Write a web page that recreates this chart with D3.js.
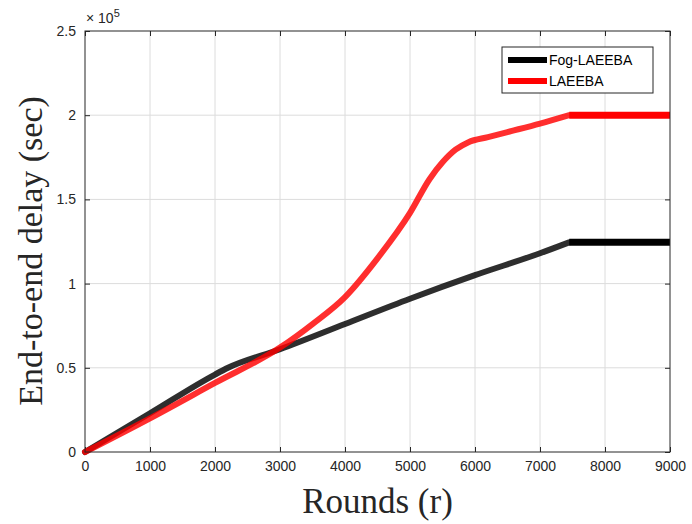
<!DOCTYPE html>
<html>
<head>
<meta charset="utf-8">
<script src="https://cdn.jsdelivr.net/npm/d3@7"></script>
<style>
  body { margin: 0; background: #fff; }
  svg { display: block; }
</style>
</head>
<body>
<div id="chart"></div>
<script>
/** Data (delay in units of 1e5 sec) */
const fogRounds = [0, 1000, 2000, 2200, 3000, 4000, 5000, 6000, 7000, 7450];
const fogDelay = [0, 0.23, 0.46, 0.5, 0.61, 0.76, 0.91, 1.05, 1.18, 1.245];
const laeebaRounds = [0, 1000, 2000, 3000, 3500, 4000, 4500, 5000, 5300, 5500, 5700, 5900, 6200, 6500, 7000, 7450];
const laeebaDelay = [0, 0.2, 0.41, 0.62, 0.76, 0.92, 1.15, 1.42, 1.62, 1.72, 1.795, 1.84, 1.87, 1.9, 1.95, 2.0];
const flatRounds = [7450, 9000];
const xTicks = [0, 1000, 2000, 3000, 4000, 5000, 6000, 7000, 8000, 9000];
const yTicks = [0, 0.5, 1, 1.5, 2, 2.5];
const seriesNames = ["Fog-LAEEBA", "LAEEBA"];
const seriesColors = ["#000000", "#ff0000"];

/** Graph configs */
const W = 692, H = 524;
const margin = { top: 31, right: 22, bottom: 72, left: 85 };
const width = W - margin.left - margin.right;
const height = H - margin.top - margin.bottom;

const svg = d3.select("#chart").append("svg").attr("width", W).attr("height", H);
const g = svg.append("g").attr("transform", `translate(${margin.left},${margin.top})`);

const x = d3.scaleLinear().domain([0, 9000]).range([0, width]);
const y = d3.scaleLinear().domain([0, 2.5]).range([height, 0]);

// grid
g.append("g").selectAll("line").data(xTicks.slice(1, -1)).join("line")
  .attr("x1", d => x(d)).attr("x2", d => x(d)).attr("y1", 0).attr("y2", height)
  .attr("stroke", "#dcdcdc").attr("stroke-width", 1);
g.append("g").selectAll("line").data(yTicks.slice(1, -1)).join("line")
  .attr("y1", d => y(d)).attr("y2", d => y(d)).attr("x1", 0).attr("x2", width)
  .attr("stroke", "#dcdcdc").attr("stroke-width", 1);

const tickStyle = sel => {
  sel.select(".domain").remove();
  sel.selectAll("line").attr("stroke", "#262626");
  sel.selectAll("text").attr("fill", "#262626")
    .style("font-family", "Arial, 'Liberation Sans', sans-serif").style("font-size", "14px");
};

g.append("g").attr("transform", `translate(0,${height})`)
  .call(d3.axisBottom(x).tickValues(xTicks).tickFormat(d3.format("d")).tickSizeInner(-5).tickPadding(9))
  .call(tickStyle);
g.append("g")
  .call(d3.axisTop(x).tickValues(xTicks).tickFormat("").tickSizeInner(-5))
  .call(tickStyle);
g.append("g")
  .call(d3.axisLeft(y).tickValues(yTicks).tickFormat(d => d).tickSizeInner(-5).tickPadding(9))
  .call(tickStyle);
g.append("g").attr("transform", `translate(${width},0)`)
  .call(d3.axisRight(y).tickValues(yTicks).tickFormat("").tickSizeInner(-5))
  .call(tickStyle);

// lines
const line = d3.line().x(d => x(d[0])).y(d => y(d[1])).curve(d3.curveMonotoneX);
const fogPts = d3.zip(fogRounds, fogDelay);
const laeebaPts = d3.zip(laeebaRounds, laeebaDelay);

const series = [
  { pts: fogPts, flat: fogDelay[fogDelay.length - 1], color: seriesColors[0] },
  { pts: laeebaPts, flat: laeebaDelay[laeebaDelay.length - 1], color: seriesColors[1] }
];

series.forEach(s => {
  g.append("path").attr("d", line(s.pts)).attr("fill", "none")
    .attr("stroke", s.color).attr("stroke-width", 6).attr("stroke-opacity", 0.82)
    .attr("stroke-linecap", "round");
  g.append("path").attr("d", line(flatRounds.map(r => [r, s.flat]))).attr("fill", "none")
    .attr("stroke", s.color).attr("stroke-width", 7);
});

// box
g.append("rect").attr("width", width).attr("height", height)
  .attr("fill", "none").attr("stroke", "#262626").attr("stroke-width", 1);

// exponent
const expo = svg.append("text").attr("x", margin.left + 1).attr("y", 23)
  .attr("fill", "#262626").style("font-family", "Arial, 'Liberation Sans', sans-serif").style("font-size", "14px");
expo.append("tspan").text("\u00d7 10");
expo.append("tspan").attr("dy", -6).style("font-size", "11px").text("5");

// legend
const lg = svg.append("g").attr("transform", "translate(502,47)");
lg.append("rect").attr("width", 151).attr("height", 46).attr("fill", "#fff")
  .attr("stroke", "#262626").attr("stroke-width", 1);
seriesNames.forEach((name, i) => {
  const yy = 13 + i * 21;
  lg.append("line").attr("x1", 6).attr("x2", 45).attr("y1", yy).attr("y2", yy)
    .attr("stroke", seriesColors[i]).attr("stroke-width", 6);
  lg.append("text").attr("x", 47).attr("y", yy + 5).text(name)
    .attr("fill", "#000").style("font-family", "Arial, 'Liberation Sans', sans-serif").style("font-size", "14px");
});

// axis titles
svg.append("text").attr("x", margin.left + width / 2).attr("y", 513)
  .attr("text-anchor", "middle").text("Rounds (r)")
  .attr("fill", "#262626").style("font-family", "'Liberation Serif', 'Times New Roman', serif").style("font-size", "35px");
svg.append("text").attr("transform", `translate(42,251) rotate(-90)`)
  .attr("text-anchor", "middle").text("End-to-end delay (sec)")
  .attr("fill", "#262626").style("font-family", "'Liberation Serif', 'Times New Roman', serif").style("font-size", "34px");
</script>
</body>
</html>
